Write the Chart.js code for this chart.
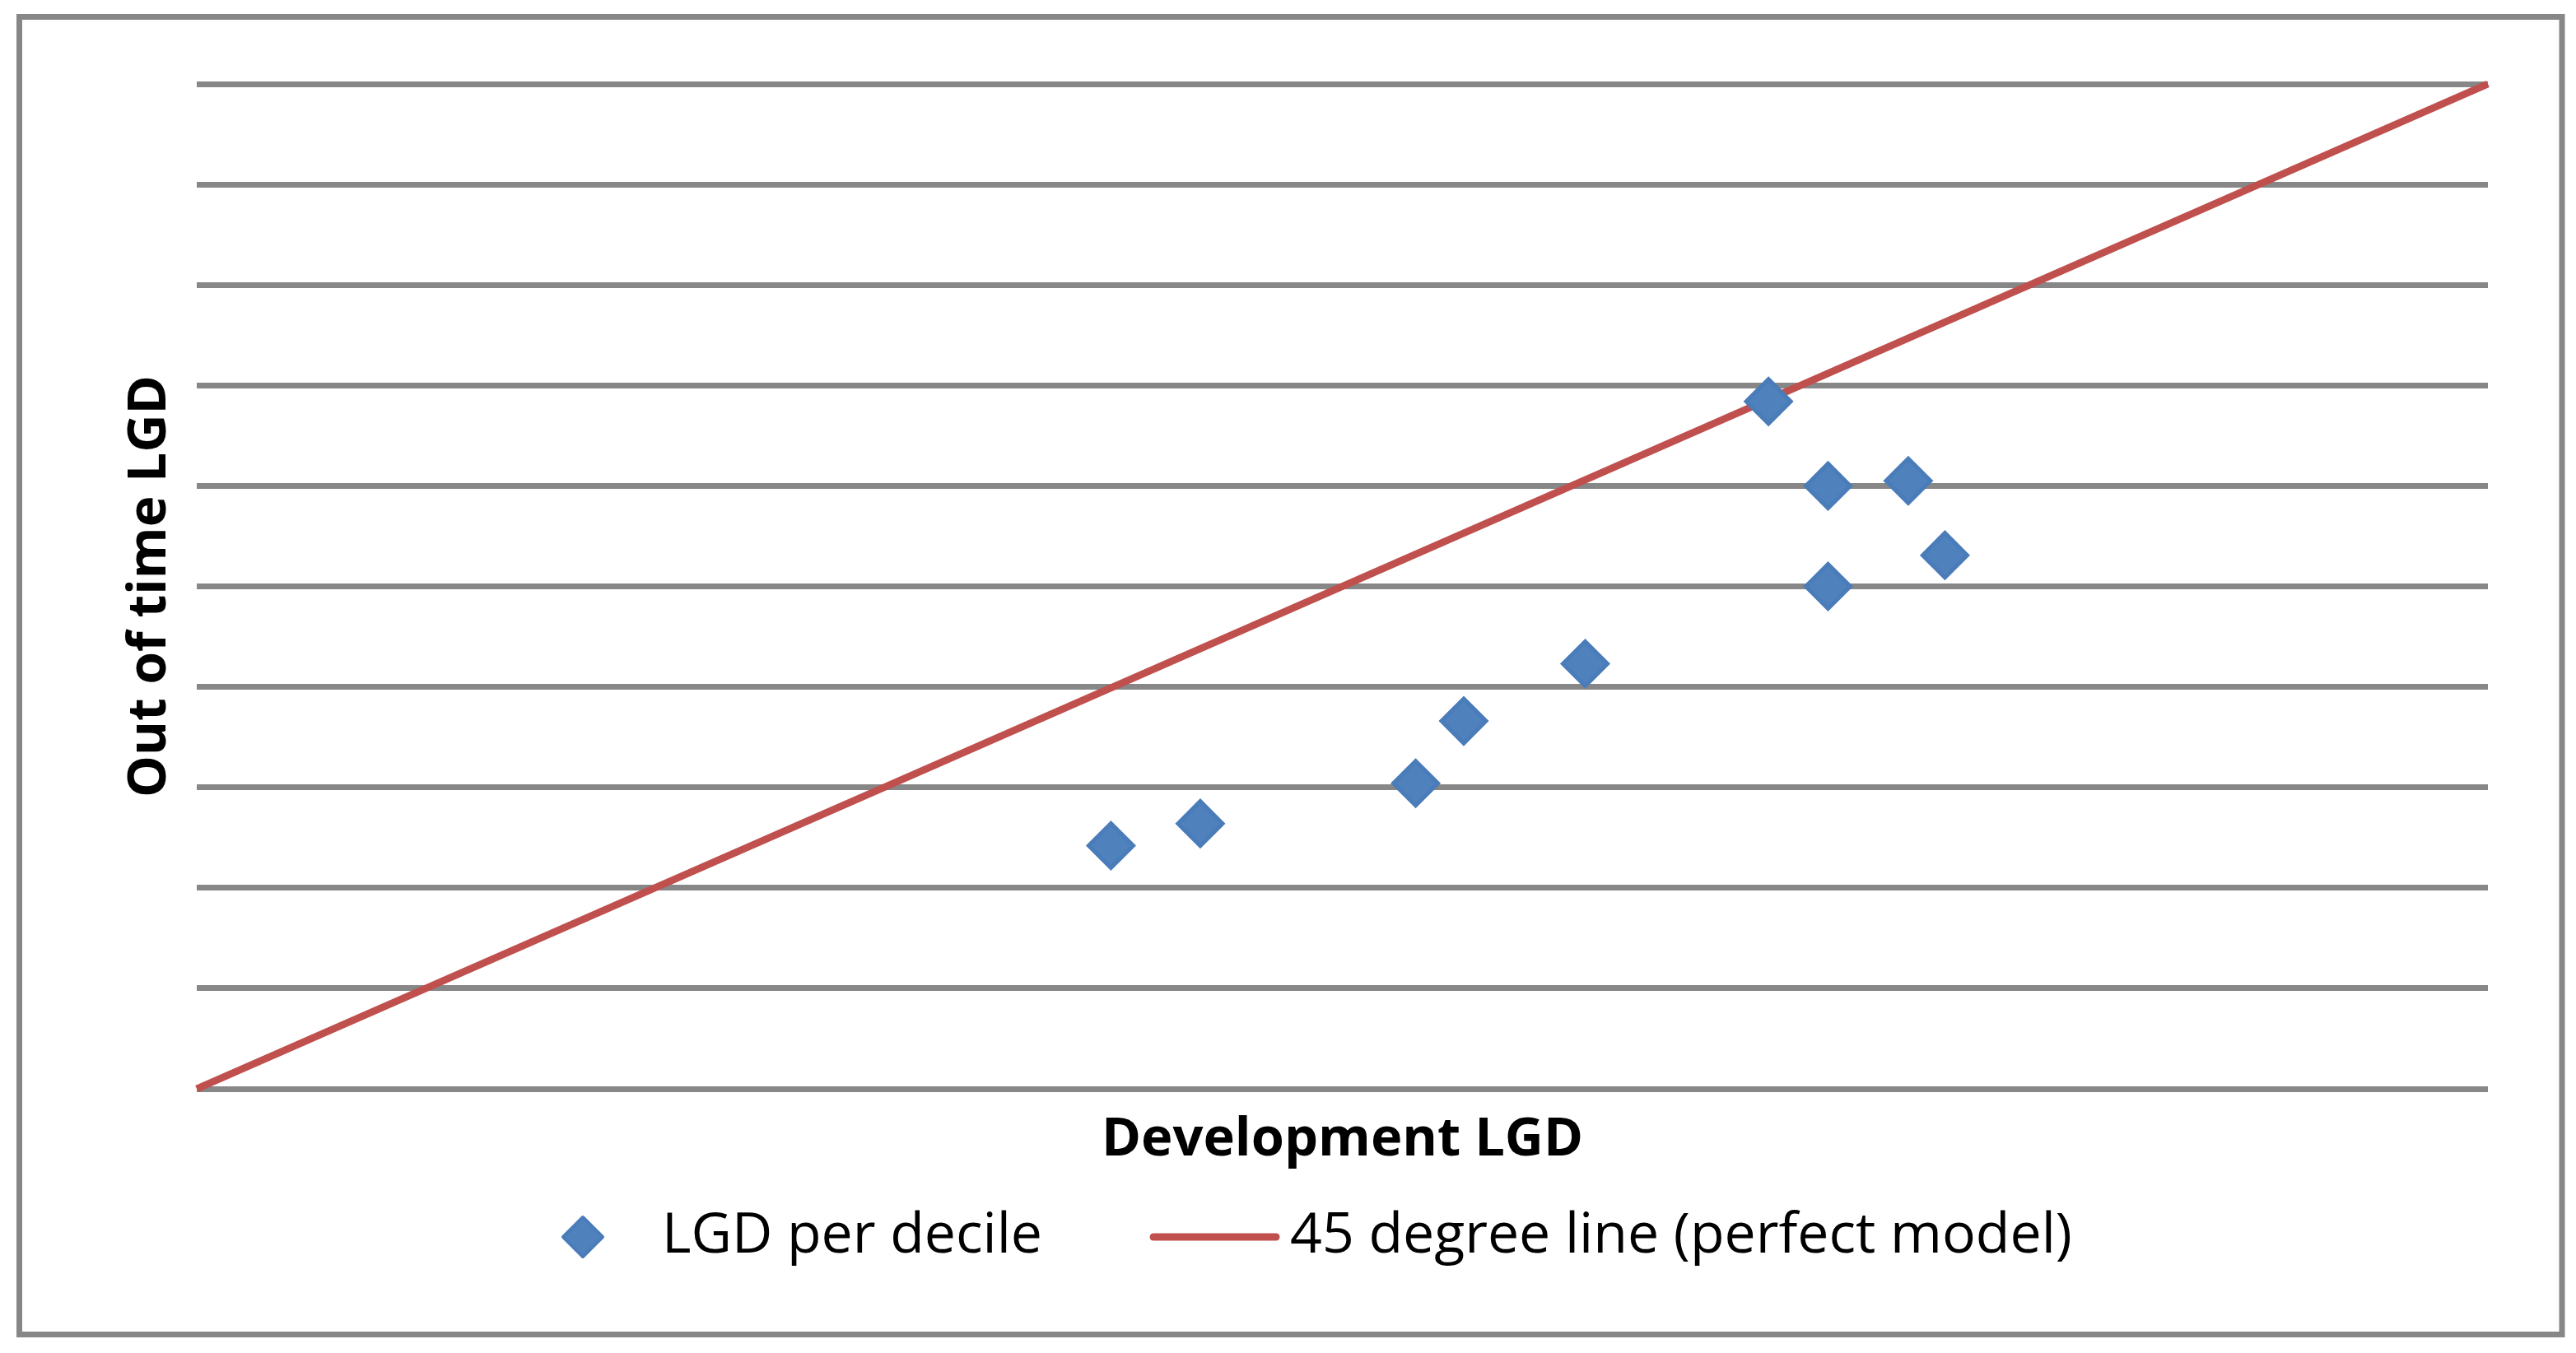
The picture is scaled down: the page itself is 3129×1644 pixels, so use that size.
<!DOCTYPE html>
<html>
<head>
<meta charset="utf-8">
<script src="https://cdn.jsdelivr.net/npm/chart.js@4.4.0/dist/chart.umd.min.js"></script>
<style>
  html, body { margin: 0; padding: 0; background: #fff; }
  #wrap { width: 3129px; height: 1644px; }
</style>
</head>
<body>
<div id="wrap"><canvas id="chart" width="3129" height="1644"></canvas></div>
<script>
// LGD per decile: development sample (x) vs out of time sample (y)
const devLgd = [0.399, 0.438, 0.532, 0.553, 0.606, 0.686, 0.712, 0.712, 0.747, 0.763];
const ootLgd = [0.242, 0.264, 0.304, 0.366, 0.423, 0.684, 0.600, 0.500, 0.605, 0.531];

// 45 degree line end points
const perfectX = [0, 1];
const perfectY = [0, 1];

// horizontal gridlines (no labels shown)
const yTicks = [0, 0.1, 0.2, 0.3, 0.4, 0.5, 0.6, 0.7, 0.8, 0.9, 1];

const labels = ['LGD per decile', '45 degree line (perfect model)'];
const axisTitles = { x: 'Development LGD', y: 'Out of time LGD' };

const FONT = '"Open Sans", "DejaVu Sans", sans-serif';
const GRID = '#878787';

// white page + grey outer frame
const frame = {
    id: 'frame',
    beforeDraw(chart) {
        const c = chart.ctx;
        c.save();
        c.fillStyle = '#fff';
        c.fillRect(0, 0, chart.width, chart.height);
        c.strokeStyle = GRID;
        c.lineWidth = 7;
        c.strokeRect(23.5, 20.5, 3088.5, 1601);
        c.restore();
    }
};

// legend row like excel's: diamond, text, short line, text
const legendRow = {
    id: 'legendRow',
    afterDraw(chart) {
        const c = chart.ctx;
        const pts = chart.data.datasets[0];
        const line = chart.data.datasets[1];
        const y = 1503;
        c.save();

        // diamond marker
        const r = 24;
        c.beginPath();
        c.moveTo(708 - r, y);
        c.lineTo(708, y - r);
        c.lineTo(708 + r, y);
        c.lineTo(708, y + r);
        c.closePath();
        c.fillStyle = pts.backgroundColor;
        c.fill();
        c.lineWidth = 4;
        c.lineJoin = 'round';
        c.strokeStyle = pts.borderColor;
        c.stroke();

        // line marker
        c.beginPath();
        c.moveTo(1401, y);
        c.lineTo(1550, y);
        c.lineWidth = 9;
        c.lineCap = 'round';
        c.strokeStyle = line.borderColor;
        c.stroke();

        c.fillStyle = '#000';
        c.font = '400 68px ' + FONT;
        c.textBaseline = 'middle';
        c.textAlign = 'left';
        c.fillText(pts.label, 804, y);
        c.fillText(line.label, 1567, y);
        c.restore();
    }
};

const ctx = document.getElementById('chart').getContext('2d');
new Chart(ctx, {
    type: 'scatter',
    data: {
        datasets: [
            {
                label: labels[0],
                data: devLgd.map((x, i) => ({ x: x, y: ootLgd[i] })),
                pointStyle: 'rectRot',
                pointRadius: 27,
                pointHoverRadius: 27,
                borderWidth: 5,
                backgroundColor: '#4F81BD',
                borderColor: '#4A7CB9'
            },
            {
                label: labels[1],
                data: perfectX.map((x, i) => ({ x: x, y: perfectY[i] })),
                showLine: true,
                pointRadius: 0,
                borderWidth: 9,
                borderColor: '#C0504D',
                backgroundColor: '#C0504D',
                clip: false
            }
        ]
    },
    options: {
        responsive: false,
        animation: false,
        layout: { padding: { top: 102, right: 107, left: 0, bottom: 0 } },
        plugins: {
            legend: { display: false },
            tooltip: { enabled: false }
        },
        scales: {
            x: {
                type: 'linear',
                min: 0,
                max: 1,
                border: { display: false },
                grid: { display: false, drawTicks: false },
                ticks: { display: false },
                title: {
                    display: true,
                    text: axisTitles.x,
                    color: '#000',
                    font: { family: FONT, size: 65, weight: 'bold' },
                    padding: { top: 0, bottom: 220 }
                },
                afterFit(scale) { scale.height = 321; }
            },
            y: {
                type: 'linear',
                min: 0,
                max: 1,
                border: { display: false },
                grid: { color: GRID, lineWidth: 7, drawTicks: false },
                ticks: { display: false },
                afterBuildTicks(scale) {
                    scale.ticks = yTicks.map(v => ({ value: v }));
                },
                title: {
                    display: true,
                    text: axisTitles.y,
                    color: '#000',
                    font: { family: FONT, size: 64, weight: 'bold' },
                    padding: { top: 144, bottom: 0 }
                },
                afterFit(scale) { scale.width = 239; }
            }
        }
    },
    plugins: [frame, legendRow]
});
</script>
</body>
</html>
